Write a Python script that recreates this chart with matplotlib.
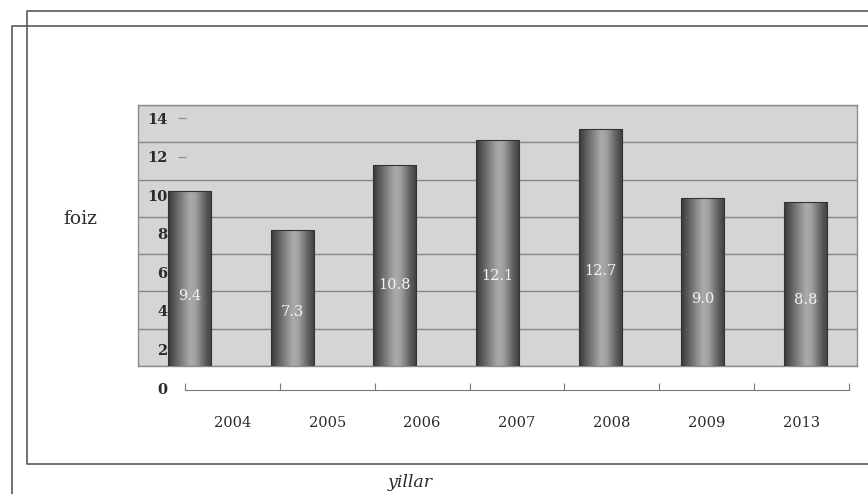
import matplotlib
matplotlib.use("Agg")
import matplotlib.pyplot as plt
import numpy as np
from matplotlib.colors import LinearSegmentedColormap
from matplotlib.lines import Line2D
from matplotlib.patches import Rectangle

# data
years = ["2004", "2005", "2006", "2007", "2008", "2009", "2013"]
values = [9.4, 7.3, 10.8, 12.1, 12.7, 9.0, 8.8]
y_ticks = [0, 2, 4, 6, 8, 10, 12, 14]
y_label = "foiz"
x_label = "yillar"

W, H = 868, 494
SERIF = ["DejaVu Serif"]
TEXT = "#2b2b2b"


def px_box(x0, y0, x1, y1):
    """Pixel box (top-left origin) -> figure fraction rect."""
    return [x0 / W, 1 - y1 / H, (x1 - x0) / W, (y1 - y0) / H]


fig = plt.figure(figsize=(W / 100, H / 100), dpi=100)
fig.patch.set_facecolor("white")

# back wall with the bars
ax = fig.add_axes(px_box(138, 105, 857, 366))
ax.set_facecolor("#d5d5d5")
ax.set_xlim(-0.5, len(years) - 0.5)
ax.set_ylim(0, 14)
ax.set_yticks(y_ticks)
ax.yaxis.grid(True, color="#858585", linewidth=1.0)
ax.set_axisbelow(True)
ax.tick_params(left=False, bottom=False, labelleft=False, labelbottom=False)
for sp in ax.spines.values():
    sp.set_color("#8c8c8c")
    sp.set_linewidth(1.0)

cyl = LinearSegmentedColormap.from_list(
    "cyl",
    [(0.0, "#383838"), (0.15, "#5c5c5c"), (0.5, "#ababab"),
     (0.62, "#a2a2a2"), (0.86, "#5e5e5e"), (1.0, "#3e3e3e")],
)
grad = np.linspace(0, 1, 64).reshape(1, -1)
bar_w = 0.42
bars = ax.bar(range(len(years)), values, width=bar_w, color="none",
              edgecolor="#333333", linewidth=0.8, zorder=4)
for b in bars:
    x0, w, h = b.get_x(), b.get_width(), b.get_height()
    im = ax.imshow(grad, cmap=cyl, aspect="auto", extent=[x0, x0 + w, 0, h],
                   zorder=3, interpolation="bicubic")
    clip = Rectangle((x0, 0), w, h, transform=ax.transData)
    im.set_clip_path(clip)
ax.set_xlim(-0.5, len(years) - 0.5)
ax.set_ylim(0, 14)

for i, v in enumerate(values):
    ax.text(i, v * 0.4, f"{v:.1f}", ha="center", va="center", color="#f4f4f4",
            fontsize=10.5, family=SERIF, zorder=5)

# front value axis (labels drawn in front of the wall)
ax_y = fig.add_axes(px_box(162, 118, 186, 388))
ax_y.patch.set_visible(False)
for sp in ax_y.spines.values():
    sp.set_visible(False)
ax_y.set_ylim(0, 14)
ax_y.set_yticks(y_ticks)
ax_y.set_yticklabels([str(t) for t in y_ticks], family=SERIF, fontsize=10.5,
                     fontweight="bold", color=TEXT)
ax_y.set_xticks([])
ax_y.tick_params(axis="y", left=False, right=True, direction="in", length=6,
                 width=0.8, color="#8c8c8c", pad=-4)
# dashes hidden behind the first bar
bar_top = ax.transData.transform((0, values[0]))[1]
for tick, t in zip(ax_y.yaxis.get_major_ticks(), y_ticks):
    if ax_y.transData.transform((0, t))[1] <= bar_top or t == 0:
        tick.tick2line.set_visible(False)

# front category axis on the floor
ax_x = fig.add_axes(px_box(185, 370, 849, 390))
ax_x.patch.set_visible(False)
for name, sp in ax_x.spines.items():
    sp.set_visible(name == "bottom")
ax_x.spines["bottom"].set_color("#7a7a7a")
ax_x.set_xlim(-0.5, len(years) - 0.5)
ax_x.set_yticks([])
ax_x.set_xticks(np.arange(len(years) + 1) - 0.5)
ax_x.set_xticklabels([])
ax_x.tick_params(axis="x", which="major", direction="in", length=5,
                 color="#7a7a7a", width=0.8)
ax_x.set_xticks(range(len(years)), minor=True)
ax_x.set_xticklabels(years, minor=True, family=SERIF, fontsize=10.5, color=TEXT)
ax_x.tick_params(axis="x", which="minor", length=0, pad=19)

fig.text(80 / W, 1 - 219 / H, y_label, ha="center", va="center",
         family=SERIF, fontsize=13.5, color=TEXT)
fig.text(410 / W, 1 - 482 / H, x_label, ha="center", va="center",
         family=SERIF, fontsize=12.5, style="italic", color=TEXT)

# scanned frames
frame_kw = dict(color="#5a5a5a", linewidth=1.2, transform=fig.transFigure)
for xs, ys in [([12, 12, 868], [494, 26, 26]),
               ([868, 27, 27, 868], [11, 11, 464, 464])]:
    fig.add_artist(Line2D([x / W for x in xs], [1 - y / H for y in ys], **frame_kw))

fig.savefig("out.png", dpi=100)
